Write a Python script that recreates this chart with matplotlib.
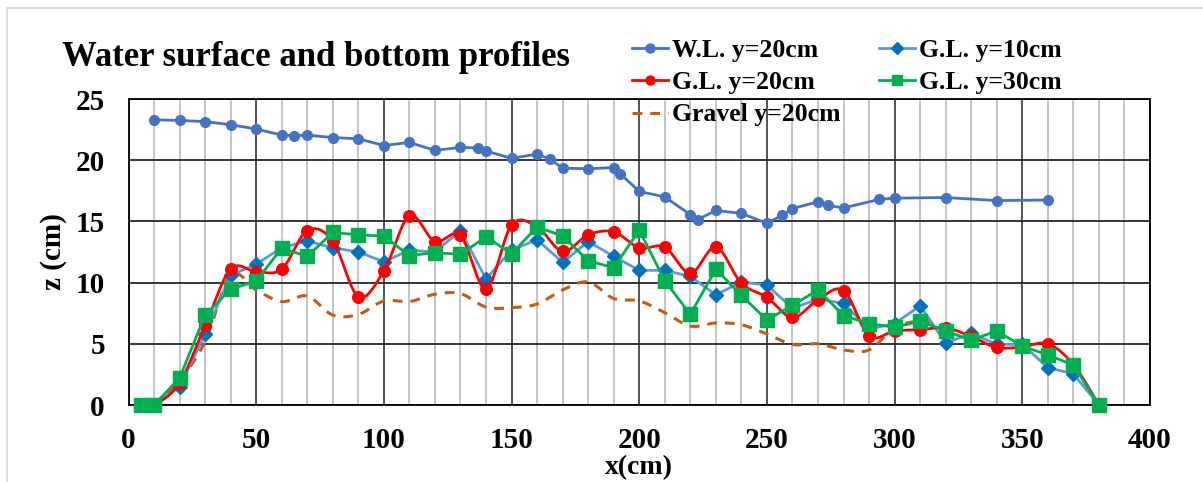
import numpy as np
import matplotlib
matplotlib.use("Agg")
import matplotlib.pyplot as plt
from matplotlib.lines import Line2D
from matplotlib.patches import Rectangle

# ---------------- data ----------------
wl_x = [10, 20, 30, 40, 50, 60, 65, 70, 80, 90, 100, 110, 120, 130, 137, 140, 150, 160, 165,
        170, 180, 190, 192.5, 200, 210, 220, 223, 230, 240, 250, 256, 260, 270, 274, 280, 294,
        300, 320, 340, 360]
wl_y = [23.3, 23.25, 23.15, 22.9, 22.55, 22.05, 22.0, 22.05, 21.85, 21.75, 21.2, 21.45, 20.8,
        21.05, 21.0, 20.75, 20.15, 20.5, 20.1, 19.35, 19.3, 19.4, 18.9, 17.45, 17.0, 15.55,
        15.15, 15.9, 15.65, 14.85, 15.5, 16.05, 16.6, 16.3, 16.1, 16.8, 16.9, 16.95, 16.7, 16.75]

gl_x = [5, 10, 20, 30, 40, 50, 60, 70, 80, 90, 100, 110, 120, 130, 140, 150, 160, 170, 180,
        190, 200, 210, 220, 230, 240, 250, 260, 270, 280, 290, 300, 310, 320, 330, 340, 350,
        360, 370, 380]
gl10_y = [0, 0, 1.5, 5.8, 10.6, 11.5, 12.85, 13.4, 12.85, 12.5, 11.7, 12.65, 12.5, 14.25, 10.3,
          12.65, 13.5, 11.65, 13.35, 12.15, 11.0, 11.0, 10.5, 9.0, 10.05, 9.8, 7.9, 8.65, 8.3,
          6.2, 6.65, 8.1, 5.05, 5.85, 4.95, 4.95, 3.05, 2.55, 0]
gl20_y = [0, 0, 1.8, 6.5, 11.1, 10.9, 11.1, 14.25, 13.4, 8.85, 10.95, 15.45, 13.35, 13.85, 9.5,
          14.7, 14.55, 12.55, 13.9, 14.15, 12.85, 12.9, 10.75, 12.9, 9.95, 8.8, 7.15, 8.6, 9.35,
          5.65, 6.05, 6.15, 6.3, 5.6, 4.7, 4.75, 5.0, 3.3, 0]
gl30_y = [0, 0, 2.2, 7.35, 9.45, 10.15, 12.8, 12.15, 14.1, 13.9, 13.8, 12.2, 12.45, 12.3, 13.75,
          12.35, 14.55, 13.8, 11.8, 11.2, 14.3, 10.15, 7.4, 11.1, 8.95, 6.95, 8.15, 9.4, 7.3,
          6.65, 6.35, 6.85, 6.05, 5.3, 6.05, 4.8, 4.1, 3.25, 0]

gr_x = [10, 20, 30, 40, 50, 60, 70, 80, 90, 100, 110, 120, 130, 140, 150, 160, 170, 180, 190,
        200, 210, 220, 230, 240, 250, 260, 270, 280, 290, 300, 310, 320]
gr_y = [0, 2.0, 5.2, 10.6, 9.4, 8.45, 8.9, 7.35, 7.4, 8.5, 8.45, 9.05, 9.1, 8.0, 7.95, 8.25,
        9.4, 10.05, 8.7, 8.5, 7.55, 6.45, 6.7, 6.55, 5.8, 4.95, 5.0, 4.5, 4.5, 6.3, 6.85, 6.5]

labels = ["W.L. y=20cm", "G.L. y=10cm", "G.L. y=20cm", "G.L. y=30cm", "Gravel y=20cm"]
title = "Water surface and bottom profiles"
x_ticks = [0, 50, 100, 150, 200, 250, 300, 350, 400]
y_ticks = [0, 5, 10, 15, 20, 25]

# ---------------- helpers ----------------
def smooth(xs, ys, n=30):
    """Excel-like smooth curve (Catmull-Rom Bezier)."""
    P = np.column_stack([xs, ys]).astype(float)
    out = []
    m = len(P)
    t = np.linspace(0, 1, n)[:, None]
    for i in range(m - 1):
        p0 = P[i - 1] if i > 0 else P[i]
        p1 = P[i]
        p2 = P[i + 1]
        p3 = P[i + 2] if i + 2 < m else P[i + 1]
        c1 = p1 + (p2 - p0) / 6.0
        c2 = p2 - (p3 - p1) / 6.0
        seg = ((1 - t) ** 3) * p1 + 3 * ((1 - t) ** 2) * t * c1 + 3 * (1 - t) * t ** 2 * c2 + t ** 3 * p2
        out.append(seg if i == 0 else seg[1:])
    arr = np.vstack(out)
    return arr[:, 0], arr[:, 1]

FONT = "Liberation Serif"
W, H = 1203, 482
fig = plt.figure(figsize=(W / 100, H / 100), dpi=100)

# outer light frame
fig.patches.append(Rectangle((7 / W, -0.1), 1.2, (H - 8) / H + 0.1, transform=fig.transFigure,
                             fill=False, edgecolor="#D9D9D9", linewidth=1.2, zorder=0))

ax = fig.add_axes([128.5 / W, (H - 405) / H, (1150 - 128.5) / W, 306 / H])
ax.set_xlim(0, 400)
ax.set_ylim(0, 25)
ax.set_xticks(x_ticks)
ax.set_xticks(np.arange(0, 401, 10), minor=True)
ax.set_yticks(y_ticks)

ax.grid(which="minor", axis="x", color="#BFBFBF", linewidth=1.3, zorder=0)
ax.grid(which="major", axis="x", color="#262626", linewidth=1.1, zorder=0.5)
ax.grid(which="major", axis="y", color="#262626", linewidth=1.3, zorder=0.5)
for s in ax.spines.values():
    s.set_color("#000000")
    s.set_linewidth(1.3)
ax.tick_params(which="both", length=0)
ax.tick_params(axis="x", pad=16)
ax.tick_params(axis="y", pad=17)
for lab in ax.get_xticklabels() + ax.get_yticklabels():
    lab.set_fontfamily(FONT)
    lab.set_fontweight("bold")
    lab.set_fontsize(21)

lw = 2.0
# W.L.
ax.plot(wl_x, wl_y, color="#4472C4", lw=lw, marker="o", ms=7.0, zorder=3, clip_on=False)
# Gravel (smooth dashed)
gx, gy = smooth(gr_x, gr_y)
ax.plot(gx, gy, color="#C55A11", lw=2.2, ls=(0, (3.2, 2.6)), zorder=3.5, clip_on=False)
# G.L. y=10
ax.plot(gl_x, gl10_y, color="#5B9BD5", lw=lw, zorder=4, clip_on=False)
ax.plot(gl_x, gl10_y, ls="none", marker="D", ms=6.8, color="#0070C0", zorder=4.1, clip_on=False)
# G.L. y=20 smooth
sx, sy = smooth(gl_x, gl20_y)
ax.plot(sx, sy, color="#FF0000", lw=lw, zorder=5, clip_on=False)
ax.plot(gl_x, gl20_y, ls="none", marker="o", ms=8.4, color="#FF0000", zorder=5.1, clip_on=False)
# G.L. y=30
ax.plot(gl_x, gl30_y, color="#00B050", lw=lw, marker="s", ms=9.4, zorder=6, clip_on=False)

fig.text(639 / W, 1 - 468 / H, "x(cm)", fontfamily=FONT, fontweight="bold", fontsize=20,
         ha="center", va="center")
ax.set_ylabel("z (cm)", fontfamily=FONT, fontweight="bold", fontsize=21)
ax.yaxis.set_label_coords((67 - 128.5) / 1021.5, 0.5)

fig.text(62 / W, 1 - 57 / H, title, fontfamily=FONT, fontweight="bold", fontsize=25,
         ha="left", va="center")

# legend (row-major visual order -> column-major handles)
h_wl = Line2D([], [], color="#4472C4", lw=lw, marker="o", ms=6.5)
h_10 = Line2D([], [], color="#5B9BD5", lw=lw, marker="D", ms=6.5, mfc="#0070C0", mec="#0070C0")
h_20 = Line2D([], [], color="#FF0000", lw=lw, marker="o", ms=6.5)
h_30 = Line2D([], [], color="#00B050", lw=lw, marker="s", ms=7.5)
h_gr = Line2D([], [], color="#C55A11", lw=2.2, ls=(0, (3.2, 2.6)))
handles = [h_wl, h_20, h_gr, h_10, h_30]
labs = [labels[0], labels[2], labels[4], labels[1], labels[3]]
leg = fig.legend(handles, labs, ncol=2, loc="upper left", bbox_to_anchor=(632 / W, 1 - 39 / H),
                 frameon=False, borderpad=0, borderaxespad=0, handlelength=1.4,
                 handletextpad=0.16, labelspacing=0.36, columnspacing=1.48,
                 prop={"family": FONT, "weight": "bold", "size": 18.5})
leg.set_zorder(10)

fig.savefig("out.png", dpi=100)
